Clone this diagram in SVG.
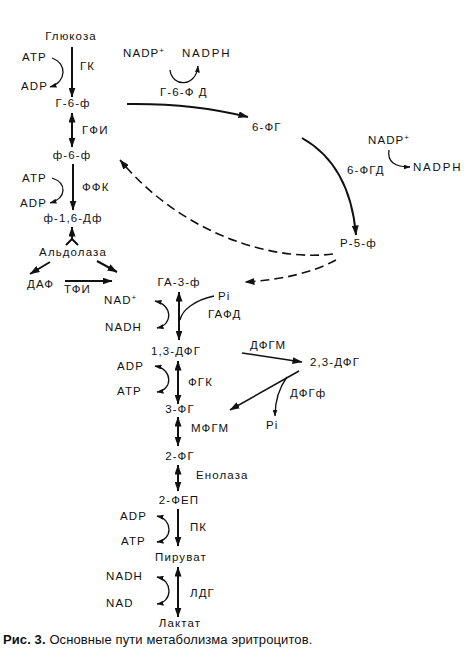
<svg xmlns="http://www.w3.org/2000/svg" width="472" height="657" viewBox="0 0 472 657">
<style>
text{font-family:"Liberation Sans",Arial,sans-serif;font-size:11.5px;fill:#111;letter-spacing:1.1px}
.m{text-anchor:middle}
.sup{font-size:8px}
.a{fill:none;stroke:#111;stroke-width:2}
.c{fill:none;stroke:#111;stroke-width:1.3}
.d{fill:none;stroke:#111;stroke-width:1.6;stroke-dasharray:9 5}
.cap{font-size:13px;letter-spacing:0.1px}
</style>
<defs>
<marker id="ah" markerUnits="userSpaceOnUse" viewBox="0 0 10 7" refX="9.5" refY="3.5" markerWidth="10" markerHeight="7" orient="auto-start-reverse"><path d="M0,0 L10,3.5 L0,7 Z" fill="#111"/></marker>
<marker id="sh" markerUnits="userSpaceOnUse" viewBox="0 0 7 5" refX="6.5" refY="2.5" markerWidth="7" markerHeight="5" orient="auto-start-reverse"><path d="M0,0 L7,2.5 L0,5 Z" fill="#111"/></marker>
</defs>
<rect width="472" height="657" fill="#fff"/>

<g id="connectors">
<path class="a" d="M72,47 V97" marker-end="url(#ah)"/>
<path class="a" d="M72,113 V147" marker-start="url(#ah)" marker-end="url(#ah)"/>
<path class="a" d="M73,164 V210" marker-end="url(#ah)"/>
<path class="a" d="M72,227 V239 M72,239 L66,245 M72,239 L78,245" marker-start="url(#ah)"/>
<path class="a" d="M50,262 L30,274" marker-end="url(#ah)"/>
<path class="a" d="M97,261 L117,272" marker-end="url(#ah)"/>
<path class="a" d="M65,281 H112" marker-end="url(#ah)"/>
<path class="a" d="M179,292 V340" marker-start="url(#ah)" marker-end="url(#ah)"/>
<path class="a" d="M178,361 V404" marker-start="url(#ah)" marker-end="url(#ah)"/>
<path class="a" d="M178,417 V446" marker-start="url(#ah)" marker-end="url(#ah)"/>
<path class="a" d="M178,465 V491" marker-start="url(#ah)" marker-end="url(#ah)"/>
<path class="a" d="M178,509 V546" marker-end="url(#ah)"/>
<path class="a" d="M178,567 V617" marker-start="url(#ah)" marker-end="url(#ah)"/>
<path class="a" d="M127,104 Q192,103 248,117" marker-end="url(#ah)"/>
<path class="a" d="M302,138 Q350,165 356,235" marker-end="url(#ah)"/>
<path class="d" d="M333,254 C270,262 180,232 120,160" marker-end="url(#ah)"/>
<path class="d" d="M336,260 Q300,279 245,282" marker-end="url(#ah)"/>
<path class="c" style="stroke-width:1.5" d="M242,353 L302,362" marker-end="url(#ah)"/>
<path class="c" style="stroke-width:1.5" d="M299,371 L230,410" marker-end="url(#ah)"/>
<path class="c" d="M287,377 C279,388 275,400 275,416" marker-end="url(#sh)"/>
<path class="c" d="M52,58 C67,63 67,82 50,87" marker-end="url(#sh)"/>
<path class="c" d="M52,178 C67,183 67,198 50,203" marker-end="url(#sh)"/>
<path class="c" d="M170,70 C172,87 196,88 198,66" marker-end="url(#sh)"/>
<path class="c" d="M389,150 C387,162 395,167 410,167" marker-end="url(#sh)"/>
<path class="c" d="M155,301 C173,305 173,325 157,328" marker-start="url(#sh)" marker-end="url(#sh)"/>
<path class="c" d="M214,296 C195,300 182,310 180,320"/>
<path class="c" d="M155,366 C173,369 173,390 157,392" marker-start="url(#sh)" marker-end="url(#sh)"/>
<path class="c" d="M157,516 C173,519 173,540 157,542" marker-start="url(#sh)" marker-end="url(#sh)"/>
<path class="c" d="M157,577 C173,580 173,602 157,604" marker-start="url(#sh)" marker-end="url(#sh)"/>
</g>

<g id="glucose"><text class="m" x="71" y="40">Глюкоза</text></g>
<g id="gk"><text x="22" y="61">ATP</text><text x="21" y="90">ADP</text><text x="80" y="70">ГК</text></g>
<g id="g6p"><text class="m" x="73" y="107">Г-6-ф</text></g>
<g id="gfi"><text x="82" y="134">ГФИ</text></g>
<g id="f6p"><text class="m" x="72" y="159">ф-6-ф</text></g>
<g id="ffk"><text x="22" y="182">ATP</text><text x="20" y="207">ADP</text><text x="82" y="191">ФФК</text></g>
<g id="f16dp"><text class="m" x="73" y="222">ф-1,6-Дф</text></g>
<g id="aldolase"><text class="m" x="73" y="256">Альдолаза</text></g>
<g id="daf"><text x="27" y="288">ДАФ</text></g>
<g id="tfi"><text x="64" y="293">ТФИ</text></g>
<g id="g6pd"><text x="123" y="57">NADP<tspan class="sup" dy="-4">+</tspan></text><text x="182" y="57" style="letter-spacing:1.8px">NADPH</text><text x="160" y="96">Г-6-Ф Д</text></g>
<g id="pg6"><text x="252" y="131">6-ФГ</text></g>
<g id="pgd6"><text x="368" y="144">NADP<tspan class="sup" dy="-4">+</tspan></text><text x="347" y="174">6-ФГД</text><text x="413" y="171" style="letter-spacing:1.8px">NADPH</text></g>
<g id="r5p"><text x="340" y="247">Р-5-ф</text></g>
<g id="ga3p"><text class="m" x="179" y="286">ГА-3-ф</text></g>
<g id="gafd"><text x="104" y="304">NAD<tspan class="sup" dy="-4">+</tspan></text><text x="105" y="331">NADH</text><text x="218" y="300">Pi</text><text x="208" y="318">ГАФД</text></g>
<g id="dpg13"><text class="m" x="176" y="355">1,3-ДФГ</text></g>
<g id="dfgm"><text x="250" y="349">ДФГМ</text></g>
<g id="dpg23"><text x="310" y="366">2,3-ДФГ</text></g>
<g id="dfgf"><text x="290" y="397">ДФГф</text><text x="266" y="429">Pi</text></g>
<g id="fgk"><text x="117" y="370">ADP</text><text x="117" y="395">ATP</text><text x="188" y="386">ФГК</text></g>
<g id="pg3"><text class="m" x="180" y="413">3-ФГ</text></g>
<g id="mfgm"><text x="191" y="432">МФГМ</text></g>
<g id="pg2"><text class="m" x="180" y="460">2-ФГ</text></g>
<g id="enolase"><text x="196" y="479">Енолаза</text></g>
<g id="pep"><text class="m" x="179" y="504">2-ФЕП</text></g>
<g id="pk"><text x="120" y="520">ADP</text><text x="121" y="545">ATP</text><text x="190" y="531">ПК</text></g>
<g id="pyruvate"><text class="m" x="181" y="561">Пируват</text></g>
<g id="ldg"><text x="106" y="580">NADH</text><text x="106" y="607">NAD</text><text x="190" y="597">ЛДГ</text></g>
<g id="lactate"><text class="m" x="180" y="627">Лактат</text></g>
<g id="caption"><text class="cap" x="3" y="644"><tspan font-weight="bold">Рис. 3.</tspan> Основные пути метаболизма эритроцитов.</text></g>
</svg>
